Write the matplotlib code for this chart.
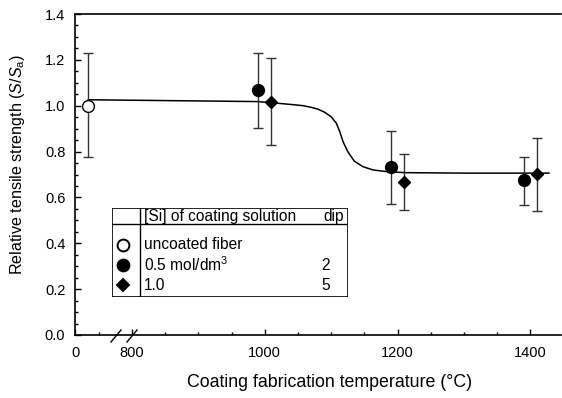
import numpy as np
import matplotlib
matplotlib.use("Agg")
import matplotlib.pyplot as plt
from matplotlib.ticker import MultipleLocator, FormatStrFormatter
from matplotlib.lines import Line2D
from matplotlib.patches import Rectangle

plt.rcParams['font.family'] = ['Liberation Sans', 'DejaVu Sans']
plt.rcParams['mathtext.fontset'] = 'custom'
plt.rcParams['mathtext.rm'] = 'Liberation Sans'
plt.rcParams['mathtext.it'] = 'Liberation Sans:style=italic'

# data
uncoated_T = [20]
uncoated_s = [1.00]
uncoated_lo = [0.776]
uncoated_hi = [1.228]

c05_T = [990, 1190, 1390]
c05_s = [1.068, 0.733, 0.676]
c05_lo = [0.903, 0.571, 0.567]
c05_hi = [1.230, 0.890, 0.776]

c10_T = [1010, 1210, 1410]
c10_s = [1.016, 0.667, 0.702]
c10_lo = [0.829, 0.545, 0.541]
c10_hi = [1.208, 0.789, 0.859]

# guide curve
curve_T = [20, 990, 1010, 1030, 1045, 1058, 1070, 1080, 1090, 1100, 1108, 1113,
           1118, 1125, 1135, 1148, 1163, 1185, 1213, 1300, 1390, 1428]
curve_s = [1.026, 1.018, 1.013, 1.008, 1.004, 1.000, 0.993, 0.985, 0.972,
           0.952, 0.923, 0.887, 0.843, 0.800, 0.758, 0.734, 0.720, 0.712,
           0.708, 0.706, 0.706, 0.706]

xtick_vals = [0, 800, 1000, 1200, 1400]

# broken axis: below 800 the temperatures are squeezed next to the y axis
ZERO_POS = 714.3


def to_axis(t):
    t = np.asarray(t, dtype=float)
    return np.where(t < 800, t + ZERO_POS, t)


def err(s, lo, hi):
    s = np.asarray(s)
    return [s - np.asarray(lo), np.asarray(hi) - s]


fig = plt.figure(figsize=(5.62, 3.98), dpi=100)
ax = fig.add_axes([75 / 562, 1 - 335 / 398, 487 / 562 - 0.002, 321 / 398])

ax.plot(to_axis(curve_T), curve_s, '-', color='black', lw=1.1, zorder=2)

ebkw = dict(ecolor='#333333', elinewidth=1.0, capsize=3.8, capthick=1.0, ls='none')
ax.errorbar(to_axis(uncoated_T), uncoated_s, yerr=err(uncoated_s, uncoated_lo, uncoated_hi),
            marker='o', ms=8.5, mfc='white', mec='black', mew=1.0, zorder=3, **ebkw)
ax.errorbar(to_axis(c05_T), c05_s, yerr=err(c05_s, c05_lo, c05_hi),
            marker='o', ms=8.5, mfc='black', mec='black', zorder=3, **ebkw)
ax.errorbar(to_axis(c10_T), c10_s, yerr=err(c10_s, c10_lo, c10_hi),
            marker='D', ms=6.5, mfc='black', mec='black', zorder=3, **ebkw)

ax.set_xlim(ZERO_POS, 1446)
ax.set_ylim(0, 1.4)
ax.set_xticks(to_axis(xtick_vals))
ax.set_xticklabels([str(v) for v in xtick_vals])
ax.xaxis.set_minor_locator(MultipleLocator(50))
ax.yaxis.set_major_locator(MultipleLocator(0.2))
ax.yaxis.set_minor_locator(MultipleLocator(0.05))
ax.yaxis.set_major_formatter(FormatStrFormatter('%.1f'))

ax.spines['right'].set_visible(False)
for sp in ['left', 'bottom', 'top']:
    ax.spines[sp].set_linewidth(1.2)
ax.tick_params(which='both', direction='in', top=False, right=False, labelsize=10.5,
               width=1.0)
ax.tick_params(which='major', length=4.5)
ax.tick_params(which='minor', length=2.5)
ax.tick_params(axis='y', pad=7)
ax.tick_params(axis='x', pad=8)

ax.set_xlabel('Coating fabrication temperature (°C)', fontsize=12.8)
ax.xaxis.set_label_coords(0.524, -0.122)
ax.set_ylabel(r'Relative tensile strength ($S$/$S_\mathrm{a}$)', fontsize=11.6)
ax.yaxis.set_label_coords(-0.099, 0.53)

# axis break marks
for x0 in (111, 127):
    fig.add_artist(Line2D([x0 / 562, (x0 + 10) / 562], [1 - 342 / 398, 1 - 330 / 398],
                          color='black', lw=1.0, transform=fig.transFigure))

# legend table
lax = fig.add_axes([112 / 562, 1 - 297 / 398, 236 / 562, 89 / 398])
lax.set_xlim(0, 236)
lax.set_ylim(89, 0)
lax.axis('off')
lax.add_patch(Rectangle((0, 0), 236, 89, fill=False, lw=1.2, ec='black'))
lax.plot([28, 28], [0, 89], color='black', lw=1.0)
lax.plot([0, 236], [16, 16], color='black', lw=1.0)
fs = 11.2
lax.text(32, 8.5, '[Si] of coating solution', fontsize=fs, va='center')
lax.text(232, 8.5, 'dip', fontsize=fs, va='center', ha='right')
rows = [('o', 'white', 'uncoated fiber', ''),
        ('o', 'black', '0.5 mol/dm$^3$', '2'),
        ('D', 'black', '1.0', '5')]
row_y = [37, 57, 77]
for (m, fc, label, dip), y in zip(rows, row_y):
    lax.plot([11], [y], marker=m, ms=8.5 if m == 'o' else 6.5, mfc=fc, mec='black', mew=1.4)
    lax.text(32, y, label, fontsize=fs, va='center')
    if dip:
        lax.text(214, y, dip, fontsize=fs, va='center', ha='center')

fig.savefig('out.png', dpi=100)
